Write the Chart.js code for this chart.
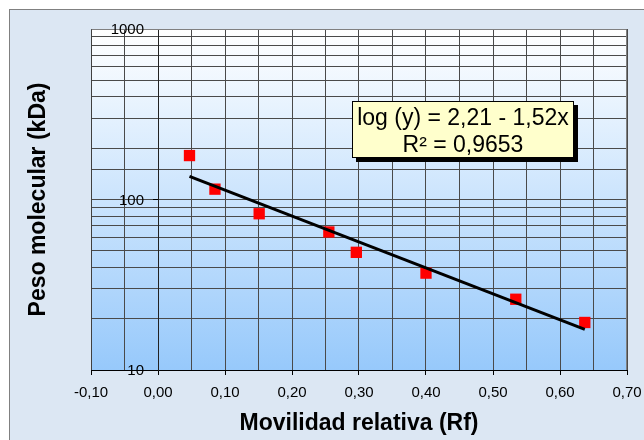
<!DOCTYPE html>
<html><head><meta charset="utf-8">
<script src="https://cdn.jsdelivr.net/npm/chart.js@4/dist/chart.umd.min.js"></script>
<style>html,body{margin:0;padding:0;background:#fff;}canvas{display:block;}</style>
</head><body>
<canvas id="c" width="644" height="440"></canvas>
<script>
// ---- data ----
const rfValues   = [0.047, 0.085, 0.151, 0.255, 0.296, 0.400, 0.534, 0.637];
const pesoValues = [181, 115, 82.5, 64.5, 49, 37, 26, 19];
const trendRf    = [0.047, 0.637];
const trendPeso  = [136.5, 17.3];
const xMin = -0.10, xMax = 0.70, xStep = 0.05;
const yMin = 10, yMax = 1000;
const yMajorTicks = [10, 100, 1000];
const yTickLabels = ['10', '100', '1000'];
const xAxisTitle = 'Movilidad relativa (Rf)';
const yAxisTitle = 'Peso molecular (kDa)';
const equationLines = ['log (y) = 2,21 - 1,52x', 'R\u00b2 = 0,9653'];

const isMajorX = v => Math.abs(Math.round(v * 100) % 10) === 0;
const isMajorY = v => yMajorTicks.some(t => Math.abs(t - v) < 1e-6);
const fmtX = v => (Math.abs(v) < 1e-9 ? 0 : v).toFixed(2).replace('.', ',');

const FONT = 'Arial, "Liberation Sans", sans-serif';

const bgPlugin = {
  id: 'bg',
  beforeDraw(chart) {
    const {ctx, chartArea: a} = chart;
    ctx.save();
    ctx.fillStyle = '#ffffff';
    ctx.fillRect(0, 0, chart.width, chart.height);
    ctx.fillStyle = '#dce7f3';
    ctx.fillRect(9, 9, chart.width, chart.height);
    ctx.strokeStyle = '#808080';
    ctx.lineWidth = 1;
    ctx.strokeRect(9.5, 9.5, chart.width + 10, chart.height + 10);
    const g = ctx.createLinearGradient(0, a.top, 0, a.bottom);
    g.addColorStop(0, '#ffffff');
    g.addColorStop(1, '#97c9fb');
    ctx.fillStyle = g;
    ctx.fillRect(a.left, a.top, a.right - a.left, a.bottom - a.top);
    ctx.restore();
  },
  beforeDatasetsDraw(chart) {
    const {ctx, chartArea: a} = chart;
    ctx.save();
    ctx.strokeStyle = '#808080';
    ctx.lineWidth = 1;
    ctx.beginPath();
    ctx.moveTo(Math.round(a.right) - 0.5, Math.round(a.bottom));
    ctx.lineTo(Math.round(a.right) - 0.5, Math.round(a.top) + 0.5);
    ctx.lineTo(Math.round(a.left) + 0.5, Math.round(a.top) + 0.5);
    ctx.stroke();
    ctx.strokeStyle = '#404040';
    ctx.beginPath();
    ctx.moveTo(Math.round(a.left) + 0.5, Math.round(a.top) + 0.5);
    ctx.lineTo(Math.round(a.left) + 0.5, Math.round(a.bottom));
    ctx.stroke();
    ctx.restore();
  }
};

// y tick labels sit just left of the y axis, which crosses at x = 0
const yLabelPlugin = {
  id: 'ylabels',
  afterDatasetsDraw(chart) {
    const {ctx, scales} = chart;
    const ax = scales.x.getPixelForValue(0);
    ctx.save();
    ctx.fillStyle = '#000';
    ctx.font = '15px ' + FONT;
    ctx.textAlign = 'right';
    ctx.textBaseline = 'middle';
    yMajorTicks.forEach((v, i) => {
      ctx.fillText(yTickLabels[i], ax - 14, scales.y.getPixelForValue(v) + 1);
    });
    ctx.restore();
  }
};

const eqPlugin = {
  id: 'eq',
  afterDraw(chart) {
    const {ctx, chartArea: a} = chart;
    const bx = a.left + 261, by = a.top + 72, bw = 222, bh = 57;
    ctx.save();
    ctx.fillStyle = '#000000';
    ctx.fillRect(bx + 4, by + 4, bw, bh);
    ctx.fillStyle = '#ffffcc';
    ctx.fillRect(bx, by, bw, bh);
    ctx.strokeStyle = '#000000';
    ctx.lineWidth = 1;
    ctx.strokeRect(bx + 0.5, by + 0.5, bw - 1, bh - 1);
    ctx.fillStyle = '#000000';
    ctx.font = '23px ' + FONT;
    ctx.textAlign = 'center';
    ctx.textBaseline = 'alphabetic';
    ctx.fillText(equationLines[0], bx + bw / 2, by + 24);
    ctx.fillText(equationLines[1], bx + bw / 2, by + 51);
    ctx.restore();
  }
};

const tickFont = {family: FONT, size: 15};
const titleFont = {family: FONT, size: 23, weight: 'bold'};
const gridColor = '#4a4a4a';

new Chart(document.getElementById('c'), {
  type: 'scatter',
  data: {
    datasets: [
      {
        type: 'line',
        data: trendRf.map((x, i) => ({x: x, y: trendPeso[i]})),
        borderColor: '#000000',
        borderWidth: 3,
        pointRadius: 0,
        fill: false,
        xAxisID: 'x', yAxisID: 'y'
      },
      {
        type: 'scatter',
        data: rfValues.map((x, i) => ({x: x, y: pesoValues[i]})),
        backgroundColor: '#ff0000',
        borderWidth: 0,
        pointStyle: 'rect',
        pointRadius: 8,
        xAxisID: 'x', yAxisID: 'y'
      }
    ]
  },
  options: {
    responsive: false,
    animation: false,
    layout: {padding: {top: 29, right: 17, bottom: 0, left: 0}},
    plugins: {legend: {display: false}, tooltip: {enabled: false}},
    scales: {
      x: {
        type: 'linear', position: 'bottom', min: xMin, max: xMax,
        afterFit: s => { s.height = 70; s.paddingLeft = 0; s.paddingRight = 0; },
        ticks: {
          stepSize: xStep, autoSkip: false, maxRotation: 0, font: tickFont, color: '#000', padding: 9,
          callback: v => isMajorX(v) ? fmtX(v) : ''
        },
        grid: {
          color: gridColor, lineWidth: 1, tickLength: 5,
          tickColor: c => (c.tick && isMajorX(c.tick.value)) ? '#000' : 'rgba(0,0,0,0)'
        },
        border: {display: true, color: '#000', width: 1},
        title: {display: true, text: xAxisTitle, font: titleFont, color: '#000', padding: {top: 0, bottom: 3}}
      },
      y: {
        type: 'logarithmic', position: {x: 0}, min: yMin, max: yMax,
        ticks: {autoSkip: false, display: false, callback: v => isMajorY(v) ? String(Math.round(v)) : ''},
        grid: {
          color: gridColor, lineWidth: 1, tickLength: 5,
          tickColor: c => (c.tick && isMajorY(c.tick.value)) ? '#000' : 'rgba(0,0,0,0)'
        },
        border: {display: true, color: '#222', width: 1}
      },
      yTitle: {
        axis: 'y', type: 'linear', position: 'left', display: true,
        afterFit: s => { s.width = 91; },
        ticks: {display: false},
        grid: {display: false, drawTicks: false},
        border: {display: false},
        title: {display: true, text: yAxisTitle, font: titleFont, color: '#000', padding: {top: 25, bottom: 0}}
      }
    }
  },
  plugins: [bgPlugin, yLabelPlugin, eqPlugin]
});
</script>
</body></html>
